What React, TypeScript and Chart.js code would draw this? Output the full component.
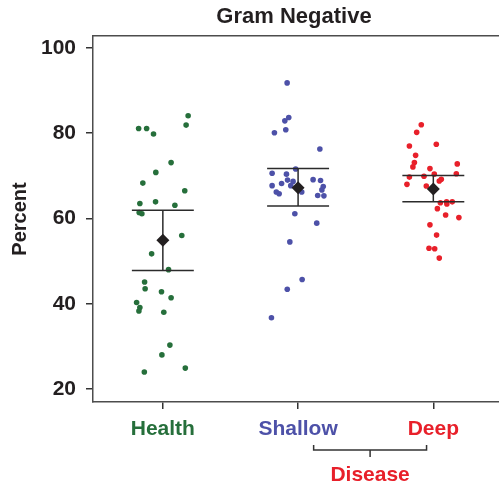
import React, { useEffect, useRef } from "react";
import { Chart, registerables } from "chart.js";

Chart.register(...registerables);

const chartTitle = "Gram Negative";
const yAxisTitle = "Percent";
const categories = ["Health", "Shallow", "Deep"];
const categoryColors = ["#266f3b", "#4d51a8", "#e8202a"];
const yTicks = [20, 40, 60, 80, 100];

const healthJitter = [0.187, -0.179, -0.12, 0.172, -0.069, 0.061, -0.052, -0.148, 0.162, -0.17, -0.054, 0.089, -0.175, -0.155, 0.14, -0.083, 0.042, -0.135, -0.131, -0.01, 0.061, -0.194, -0.17, -0.177, 0.007, 0.052, -0.007, -0.137, 0.166];
const healthValues = [84.1, 81.1, 81.1, 81.9, 79.8, 73.1, 70.8, 68.3, 66.5, 63.5, 63.9, 63.1, 61.4, 61.1, 56.0, 51.7, 48.0, 45.1, 43.5, 42.8, 41.4, 40.3, 39.1, 38.3, 38.0, 30.3, 28.0, 24.0, 24.9];

const shallowJitter = [-0.081, -0.069, -0.098, -0.091, -0.175, 0.161, -0.018, -0.192, -0.086, -0.078, -0.122, -0.192, -0.037, -0.054, -0.161, -0.14, 0.027, 0.111, 0.166, 0.186, 0.176, 0.145, 0.191, -0.024, 0.138, -0.061, 0.03, -0.08, -0.197];
const shallowValues = [91.8, 83.7, 82.9, 80.8, 80.1, 76.3, 71.6, 70.6, 70.4, 69.0, 68.2, 67.7, 68.7, 67.7, 66.2, 65.8, 66.2, 69.1, 68.9, 67.5, 66.7, 65.4, 65.3, 61.1, 58.9, 54.5, 45.7, 43.4, 36.7];

const deepJitter = [-0.089, -0.123, -0.177, 0.022, -0.131, -0.14, -0.151, 0.177, -0.025, 0.007, 0.17, -0.177, -0.069, 0.059, 0.044, -0.195, -0.052, 0.052, 0.098, 0.1, 0.14, 0.03, 0.091, 0.189, -0.025, 0.024, -0.032, 0.01, 0.044];
const deepValues = [82.0, 80.2, 77.0, 77.4, 74.8, 73.1, 72.1, 72.8, 71.7, 70.4, 70.5, 69.7, 69.9, 69.2, 68.8, 68.0, 67.6, 63.7, 63.9, 63.4, 63.9, 62.3, 60.8, 60.2, 58.5, 56.1, 53.0, 52.9, 50.7];

const means = [54.9, 67.2, 66.9];
const upperBars = [61.9, 71.7, 70.1];
const lowerBars = [47.8, 62.9, 63.9];

const groupLabel = "Disease";
const groupSpan = [2.115, 2.95];

const FONT = '"Liberation Sans", Arial, Helvetica, sans-serif';
const INK = "#231f20";
const capHalf = 0.229;
const X_MIN = 0.4835;
const X_MAX = 3.5337;

const decorPlugin = {
  id: "decor",
  afterDraw(chart: any) {
    const { ctx, chartArea } = chart;
    const xs = chart.scales.x;
    const x1 = xs.getPixelForValue(groupSpan[0]);
    const x2 = xs.getPixelForValue(groupSpan[1]);
    const xm = (x1 + x2) / 2;
    const yb = chartArea.bottom + 48;
    ctx.save();
    ctx.strokeStyle = "#333";
    ctx.lineWidth = 1.5;
    ctx.beginPath();
    ctx.moveTo(x1, yb - 5);
    ctx.lineTo(x1, yb);
    ctx.lineTo(x2, yb);
    ctx.lineTo(x2, yb - 5);
    ctx.moveTo(xm, yb);
    ctx.lineTo(xm, yb + 7);
    ctx.stroke();
    ctx.font = `bold 21px ${FONT}`;
    ctx.fillStyle = categoryColors[2];
    ctx.textAlign = "center";
    ctx.textBaseline = "middle";
    ctx.fillText(groupLabel, xm, chartArea.bottom + 73);
    // chart title
    ctx.font = `bold 22px ${FONT}`;
    ctx.fillStyle = INK;
    ctx.fillText(chartTitle, 294, 17);
    ctx.restore();
  },
};

export default function App() {
  const ref = useRef<HTMLCanvasElement | null>(null);

  useEffect(() => {
    if (!ref.current) return;
    const pointSets = [
      { j: healthJitter, v: healthValues },
      { j: shallowJitter, v: shallowValues },
      { j: deepJitter, v: deepValues },
    ];
    const datasets: any[] = [];
    datasets.push({
      label: "mean",
      data: means.map((m, i) => ({ x: i + 1, y: m })),
      pointStyle: "rectRot",
      pointRadius: 6.5,
      pointHoverRadius: 6.5,
      backgroundColor: INK,
      borderColor: INK,
      borderWidth: 0,
      order: 0,
    });
    categories.forEach((_, i) => {
      const c = i + 1;
      const lineBase = {
        showLine: true,
        pointRadius: 0,
        pointHoverRadius: 0,
        borderColor: "#2b2b2b",
        borderWidth: 1.5,
        order: 1,
      };
      datasets.push({ ...lineBase, label: "top" + i, data: [{ x: c - capHalf, y: upperBars[i] }, { x: c + capHalf, y: upperBars[i] }] });
      datasets.push({ ...lineBase, label: "bot" + i, data: [{ x: c - capHalf, y: lowerBars[i] }, { x: c + capHalf, y: lowerBars[i] }] });
      datasets.push({ ...lineBase, label: "vert" + i, data: [{ x: c, y: upperBars[i] }, { x: c, y: lowerBars[i] }] });
    });
    pointSets.forEach((s, i) => {
      datasets.push({
        label: categories[i],
        data: s.v.map((v, k) => ({ x: i + 1 + s.j[k], y: v })),
        pointRadius: 2.8,
        pointHoverRadius: 2.8,
        borderWidth: 0,
        backgroundColor: categoryColors[i],
        borderColor: categoryColors[i],
        order: 2,
      });
    });

    const chart = new Chart(ref.current, {
      type: "scatter",
      data: { datasets },
      plugins: [decorPlugin],
      options: {
        responsive: false,
        maintainAspectRatio: false,
        devicePixelRatio: 1,
        animation: false,
        events: [],
        layout: { padding: { top: 36, left: 0, right: 0, bottom: 0 } },
        plugins: {
          legend: { display: false },
          tooltip: { enabled: false },
          title: { display: false },
        },
        scales: {
          x: {
            type: "linear",
            position: "bottom",
            min: X_MIN,
            max: X_MAX,
            afterBuildTicks: (s: any) => {
              s.ticks = categories.map((_, i) => ({ value: i + 1 }));
            },
            afterFit: (s: any) => {
              s.height = 83;
            },
            ticks: {
              autoSkip: false,
              maxRotation: 0,
              padding: 8,
              font: { family: FONT, size: 21, weight: "bold" },
              color: (ctx: any) => categoryColors[ctx.index] || INK,
              callback: (v: any) => categories[Math.round(v) - 1] ?? "",
            },
            grid: { drawOnChartArea: false, drawTicks: true, tickLength: 7, tickColor: "#333", lineWidth: 1.5 },
            border: { display: true, color: "#4d4d4d", width: 1.5 },
          },
          xTop: {
            type: "linear",
            position: "top",
            min: X_MIN,
            max: X_MAX,
            afterFit: (s: any) => {
              s.height = 0;
            },
            ticks: { display: false },
            grid: { display: false, drawTicks: false },
            border: { display: true, color: "#4d4d4d", width: 1.5 },
          },
          y: {
            type: "linear",
            position: "left",
            min: 16.95,
            max: 102.8,
            afterBuildTicks: (s: any) => {
              s.ticks = yTicks.map((v) => ({ value: v }));
            },
            afterFit: (s: any) => {
              s.width = 93;
            },
            ticks: {
              padding: 10,
              color: INK,
              font: { family: FONT, size: 21, weight: "bold" },
            },
            title: {
              display: true,
              text: yAxisTitle,
              color: INK,
              font: { family: FONT, size: 20, weight: "bold" },
              padding: { top: 8, bottom: 0 },
            },
            grid: { drawOnChartArea: false, drawTicks: true, tickLength: 7, tickColor: "#333", lineWidth: 1.5 },
            border: { display: true, color: "#4d4d4d", width: 1.5 },
          },
        },
      } as any,
    });
    return () => chart.destroy();
  }, []);

  return (
    <div style={{ position: "absolute", left: 0, top: 0, width: 499, height: 485, overflow: "hidden", background: "#fff" }}>
      <canvas ref={ref} width={512} height={485} style={{ display: "block", width: 512, height: 485 }} />
    </div>
  );
}
